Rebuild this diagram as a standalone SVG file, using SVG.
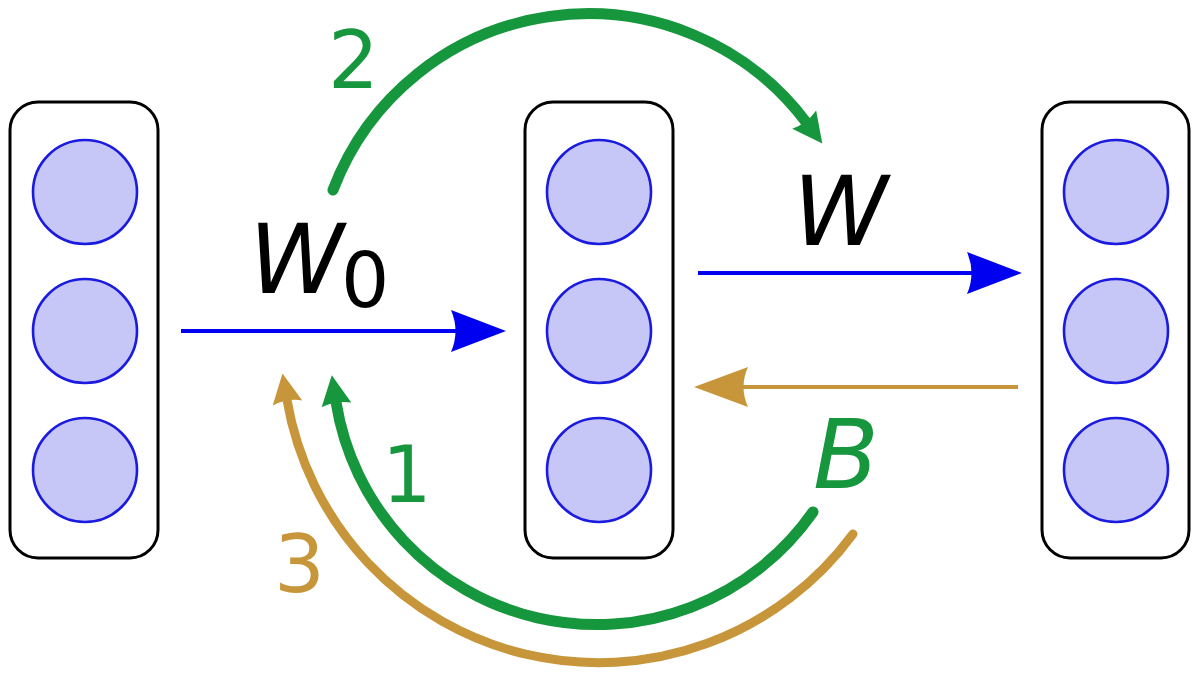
<svg xmlns="http://www.w3.org/2000/svg" width="1192" height="680" viewBox="0 0 1192 680">
  <style>
    .box { fill: #ffffff; stroke: #000000; stroke-width: 3; }
    .neuron { fill: #c6c6f7; stroke: #1a1ae0; stroke-width: 2.6; }
    .blue { fill: none; stroke: #0000f0; stroke-width: 4; }
    .goldline { fill: none; stroke: #c8963a; stroke-width: 4; }
    .green { fill: none; stroke: #17973d; stroke-width: 11; stroke-linecap: round; }
    .gold { fill: none; stroke: #c8963a; stroke-width: 9; stroke-linecap: round; }
    .lbl { font-family: "DejaVu Sans", "Liberation Sans", sans-serif; }
    .it { font-style: italic; }
  </style>
  <defs>
    <marker id="ahBlue" markerUnits="userSpaceOnUse" markerWidth="56" markerHeight="44" refX="9" refY="21" orient="auto" overflow="visible">
      <path d="M55,21 L0,0 Q9,21 0,42 Z" fill="#0000f0"/>
    </marker>
    <marker id="ahGold" markerUnits="userSpaceOnUse" markerWidth="56" markerHeight="44" refX="9" refY="20" orient="auto" overflow="visible">
      <path d="M54,20 L0,0 Q9,20 0,40 Z" fill="#c8963a"/>
    </marker>
    <marker id="ahGreen" markerUnits="userSpaceOnUse" markerWidth="32" markerHeight="32" refX="3" refY="15" orient="auto" overflow="visible">
      <path d="M30,15 L0,0 Q5,15 0,30 Z" fill="#17973d"/>
    </marker>
    <marker id="ahGold2" markerUnits="userSpaceOnUse" markerWidth="32" markerHeight="32" refX="3" refY="15" orient="auto" overflow="visible">
      <path d="M30,15 L0,0 Q5,15 0,30 Z" fill="#c8963a"/>
    </marker>
  </defs>

  <g id="layer-input">
    <rect class="box" x="10" y="102" width="148" height="456" rx="28" ry="28"/>
    <circle class="neuron" cx="85" cy="192" r="52"/>
    <circle class="neuron" cx="85" cy="331" r="52"/>
    <circle class="neuron" cx="85" cy="470" r="52"/>
  </g>

  <g id="layer-hidden">
    <rect class="box" x="525" y="102" width="148" height="456" rx="28" ry="28"/>
    <circle class="neuron" cx="599" cy="192" r="52"/>
    <circle class="neuron" cx="599" cy="331" r="52"/>
    <circle class="neuron" cx="599" cy="470" r="52"/>
  </g>

  <g id="layer-output">
    <rect class="box" x="1042" y="102" width="147" height="456" rx="28" ry="28"/>
    <circle class="neuron" cx="1116" cy="192" r="52"/>
    <circle class="neuron" cx="1116" cy="331" r="52"/>
    <circle class="neuron" cx="1116" cy="470" r="52"/>
  </g>

  <g id="connectors">
    <path id="edge-W0" class="blue" d="M181,331 L460,331" marker-end="url(#ahBlue)"/>
    <path id="edge-W" class="blue" d="M698,273 L976,273" marker-end="url(#ahBlue)"/>
    <path id="edge-B" class="goldline" d="M1018,387 L739,387" marker-end="url(#ahGold)"/>
    <path id="arc-2" class="green" d="M333,190 A273,273 0 0 1 806,122" marker-end="url(#ahGreen)"/>
    <path id="arc-1" class="green" d="M813,512 A264,264 0 0 1 336,402" marker-end="url(#ahGreen)"/>
    <path id="arc-3" class="gold" d="M853,534 A316,316 0 0 1 287,400" marker-end="url(#ahGold2)"/>
  </g>

  <g id="labels">
    <text class="lbl it" x="249" y="293" font-size="96" fill="#000000">W</text>
    <text class="lbl" x="341" y="307" font-size="76" fill="#000000">0</text>
    <text class="lbl it" x="793" y="245" font-size="96" fill="#000000">W</text>
    <text class="lbl it" x="813" y="488" font-size="96" fill="#17973d">B</text>
    <text class="lbl" x="328" y="88" font-size="80" fill="#17973d">2</text>
    <text class="lbl" x="382" y="502" font-size="78" fill="#17973d">1</text>
    <text class="lbl" x="274" y="592" font-size="80" fill="#c8963a">3</text>
  </g>
</svg>
